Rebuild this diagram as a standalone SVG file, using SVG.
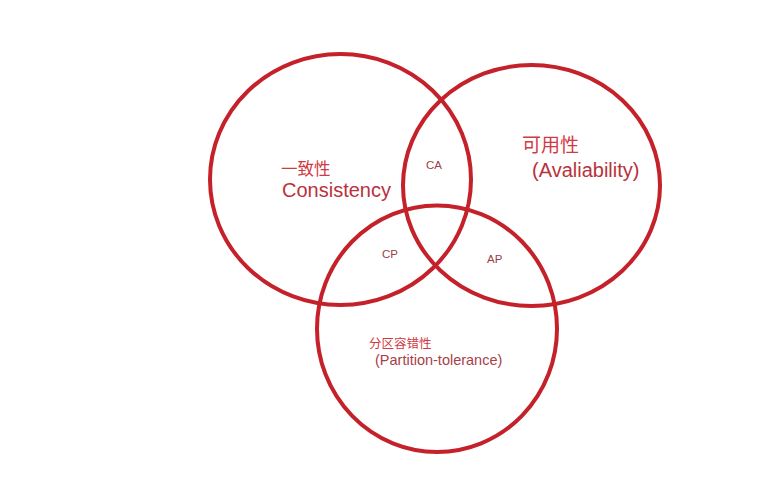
<svg xmlns="http://www.w3.org/2000/svg" width="757" height="500" viewBox="0 0 757 500">
<style>
.ring{fill:none;stroke:#c4212b;stroke-width:4}
.t{font-family:"Liberation Sans","Noto Sans CJK SC",sans-serif}
.big{fill:#b8323c;font-size:20px}
.cjk{fill:#cf3a44}
.sm{fill:#9a4048;font-size:11.5px}
</style>
<rect width="757" height="500" fill="#ffffff"/>
<g id="connectors"></g>
<g id="consistency">
<ellipse class="ring" cx="340.5" cy="179.5" rx="130.5" ry="125.5"/>
<text class="t cjk" x="281" y="175" font-size="16.5">一致性</text>
<text class="t big" x="282" y="197">Consistency</text>
</g>
<g id="availability">
<ellipse class="ring" cx="531.5" cy="185.5" rx="128.5" ry="120.5"/>
<text class="t cjk" x="522" y="152" font-size="19">可用性</text>
<text class="t big" x="532" y="177" font-size="21.5">(Avaliability)</text>
</g>
<g id="partition">
<ellipse class="ring" cx="437" cy="328.7" rx="120" ry="123.3"/>
<text class="t cjk" x="369" y="348" font-size="12.5">分区容错性</text>
<text class="t" x="375" y="365" font-size="14.5" fill="#a8404a">(Partition-tolerance)</text>
</g>
<g id="ca"><text class="t sm" x="426" y="169">CA</text></g>
<g id="cp"><text class="t sm" x="382" y="258">CP</text></g>
<g id="ap"><text class="t sm" x="487" y="263">AP</text></g>
</svg>
